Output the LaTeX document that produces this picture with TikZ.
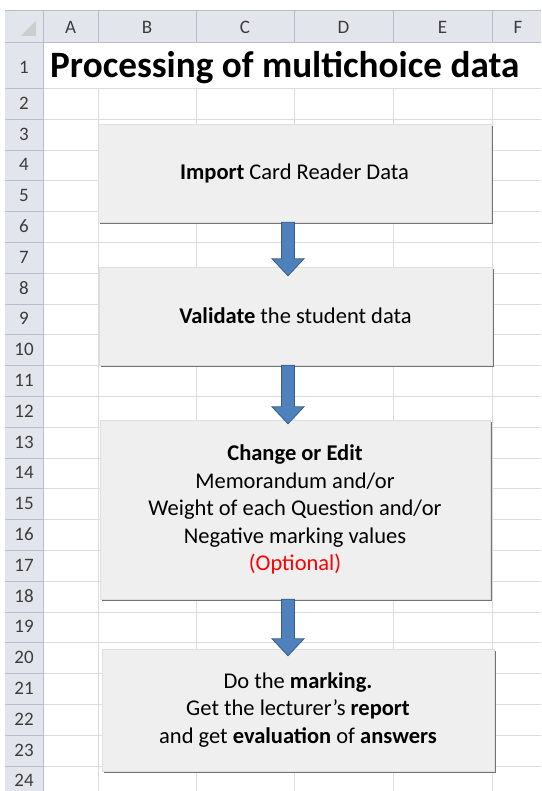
\documentclass[tikz,border=0pt]{standalone}
\usepackage{fontspec}
\setmainfont{Carlito}
\usepackage{tikz}
\usetikzlibrary{positioning, calc, shadows}

\definecolor{hdrfill}{RGB}{226,230,236}
\definecolor{hdrline}{RGB}{182,189,199}
\definecolor{hdrtext}{RGB}{60,60,60}
\definecolor{gridgray}{RGB}{218,220,221}
\definecolor{boxfill}{RGB}{239,239,239}
\definecolor{arrowblue}{RGB}{79,129,189}
\definecolor{arrowedge}{RGB}{56,93,138}

% block arrow from one point down to another
\newcommand{\blockarrow}[2]{%
  \path[flowarrow] let \p1=(#1), \p2=(#2) in
    (\x1-6.5pt,\y1) -- (\x1-6.5pt,\y2+17pt) -- (\x1-16pt,\y2+17pt) -- (\x1,\y2)
    -- (\x1+16pt,\y2+17pt) -- (\x1+6.5pt,\y2+17pt) -- (\x1+6.5pt,\y1) -- cycle;}

\begin{document}
\begin{tikzpicture}[x=1pt, y=-1pt,
    hdr/.style={font=\fontsize{19}{19}\selectfont, text=hdrtext, inner sep=0pt},
    stepbox/.style={fill=boxfill, draw=gray!25, line width=0.4pt, align=center,
        font=\fontsize{22.5}{27.5}\selectfont,
        drop shadow={shadow xshift=2pt, shadow yshift=-2pt, fill=black!55, opacity=1}},
    flowarrow/.style={fill=arrowblue, draw=arrowedge, line width=0.8pt, line join=miter}
]
    \useasboundingbox (0,0) rectangle (541,791);

    % === Sheet grid ===
    \draw[gridgray] (43,88) -- (541,88);
    \foreach \r in {3,...,24}
        \draw[gridgray] (43,{119+(\r-3)*30.8}) -- (541,{119+(\r-3)*30.8});
    \foreach \cx in {98,196,294,393,492}
        \draw[gridgray] (\cx,88) -- (\cx,791);

    % === Headers ===
    \fill[hdrfill] (5,10) rectangle (541,42);
    \fill[hdrfill] (5,10) rectangle (43,791);
    \fill[black!20] (36,21) -- (36,36) -- (21,36) -- cycle;
    \draw[hdrline] (5,10) -- (541,10);
    \foreach \cx in {98,196,294,393,492}
        \draw[hdrline] (\cx,10) -- (\cx,42);
    \draw[hdrline] (5,88) -- (43,88);
    \foreach \r in {3,...,24}
        \draw[hdrline] (5,{119+(\r-3)*30.8}) -- (43,{119+(\r-3)*30.8});
    \draw[hdrline] (5,42) -- (541,42);
    \draw[hdrline] (43,10) -- (43,791);

    \node[hdr] (colA) at (70.5,27) {A};
    \node[hdr] (colB) at (147,27) {B};
    \node[hdr] (colC) at (245,27) {C};
    \node[hdr] (colD) at (343.5,27) {D};
    \node[hdr] (colE) at (442.5,27) {E};
    \node[hdr] (colF) at (518,27) {F};

    \node[hdr] (row1) at (24,67) {1};
    \foreach \r in {2,...,24}
        \node[hdr] (row\r) at (24,{119+(\r-3)*30.8+15}) {\r};

    % === Title ===
    \node[anchor=base west, inner sep=0pt, font=\fontsize{37.2}{37.2}\selectfont\bfseries]
        (title) at (50,78) {Processing of multichoice data};

    % === Steps ===
    \node[stepbox, minimum width=393, minimum height=98] (import) at (294.5,173)
        {\textbf{Import} Card Reader Data};
    \node[stepbox, minimum width=393, minimum height=98] (validate) at (295.5,316)
        {\textbf{Validate} the student data};
    \node[stepbox, minimum width=390, minimum height=179] (change) at (295,509.5)
        {\textbf{Change or Edit}\\ Memorandum and/or\\ Weight of each Question and/or\\
         Negative marking values\\ \textcolor{red}{(Optional)}};
    \node[stepbox, minimum width=392, minimum height=122] (marking) at (298,710)
        {Do the \textbf{marking.}\\ Get the lecturer's \textbf{report}\\
         and get \textbf{evaluation} of \textbf{answers}};

    % === Arrows ===
    \coordinate (axis) at (288,0);
    \blockarrow{import.south -| axis}{$(validate.north -| axis)+(0,9)$}
    \blockarrow{validate.south -| axis}{$(change.north -| axis)+(0,4)$}
    \blockarrow{change.south -| axis}{$(marking.north -| axis)+(0,7)$}

\end{tikzpicture}
\end{document}
